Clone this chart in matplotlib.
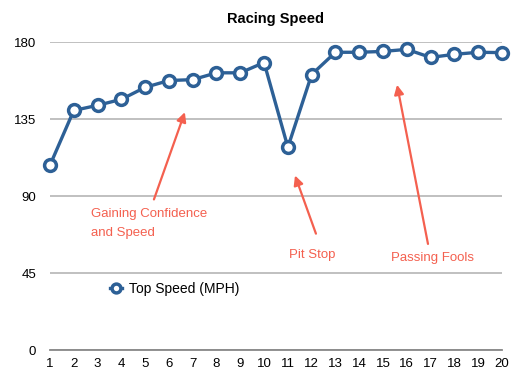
import matplotlib
matplotlib.use("Agg")
import matplotlib.pyplot as plt

plt.rcParams['font.family'] = ['Liberation Sans', 'DejaVu Sans']

laps = list(range(1, 21))
top_speed = [108, 140, 143, 146.5, 153.5, 157.5, 158, 162, 162, 168,
             118.5, 161, 174, 174, 174.5, 175.7, 171, 172.8, 174, 173.8]
y_ticks = [0, 45, 90, 135, 180]

line_col = '#2d6096'
note_col = '#f4604f'

fig = plt.figure(figsize=(5.30, 3.84), dpi=100)
ax = fig.add_axes([0.0943, 0.0885, 0.8528, 0.8021])

ax.plot(laps, top_speed, color=line_col, lw=2.4, marker='o', ms=8.5,
        mfc='white', mec=line_col, mew=2.5, clip_on=False, zorder=3,
        label='Top Speed (MPH)')

ax.set_xlim(1, 20)
ax.set_ylim(0, 180)
ax.set_xticks(laps)
ax.set_yticks(y_ticks)
ax.yaxis.grid(True, color='#bbbbbb', lw=1.3)
ax.set_axisbelow(True)
for s in ['top', 'right', 'left']:
    ax.spines[s].set_visible(False)
ax.spines['bottom'].set_color('#888888')
ax.spines['bottom'].set_linewidth(1.3)
ax.tick_params(axis='both', length=0, labelsize=9.5, pad=6)
ax.tick_params(axis='y', pad=10)

ax.set_title('Racing Speed', fontsize=10.5, fontweight='bold', pad=14)

arrow = dict(arrowstyle='-|>', color=note_col, lw=1.6, mutation_scale=14,
             shrinkA=0, shrinkB=0)
ax.annotate('', xy=(6.67, 139), xytext=(5.37, 88), arrowprops=arrow)
ax.annotate('', xy=(11.3, 102), xytext=(12.18, 68), arrowprops=arrow)
ax.annotate('', xy=(15.59, 155), xytext=(16.89, 62), arrowprops=arrow)

ax.text(2.72, 83, 'Gaining Confidence\nand Speed', color=note_col,
        fontsize=9.5, va='top', ha='left', linespacing=1.75)
ax.text(11.05, 55.5, 'Pit Stop', color=note_col, fontsize=9.5,
        va='center', ha='left')
ax.text(15.33, 53.8, 'Passing Fools', color=note_col, fontsize=9.5,
        va='center', ha='left')

ax.legend(loc='center left', bbox_to_anchor=(0.105, 0.198), frameon=False,
          fontsize=10, handlelength=0.9, handletextpad=0.5,
          markerscale=0.75)

fig.savefig('out.png', dpi=100)
